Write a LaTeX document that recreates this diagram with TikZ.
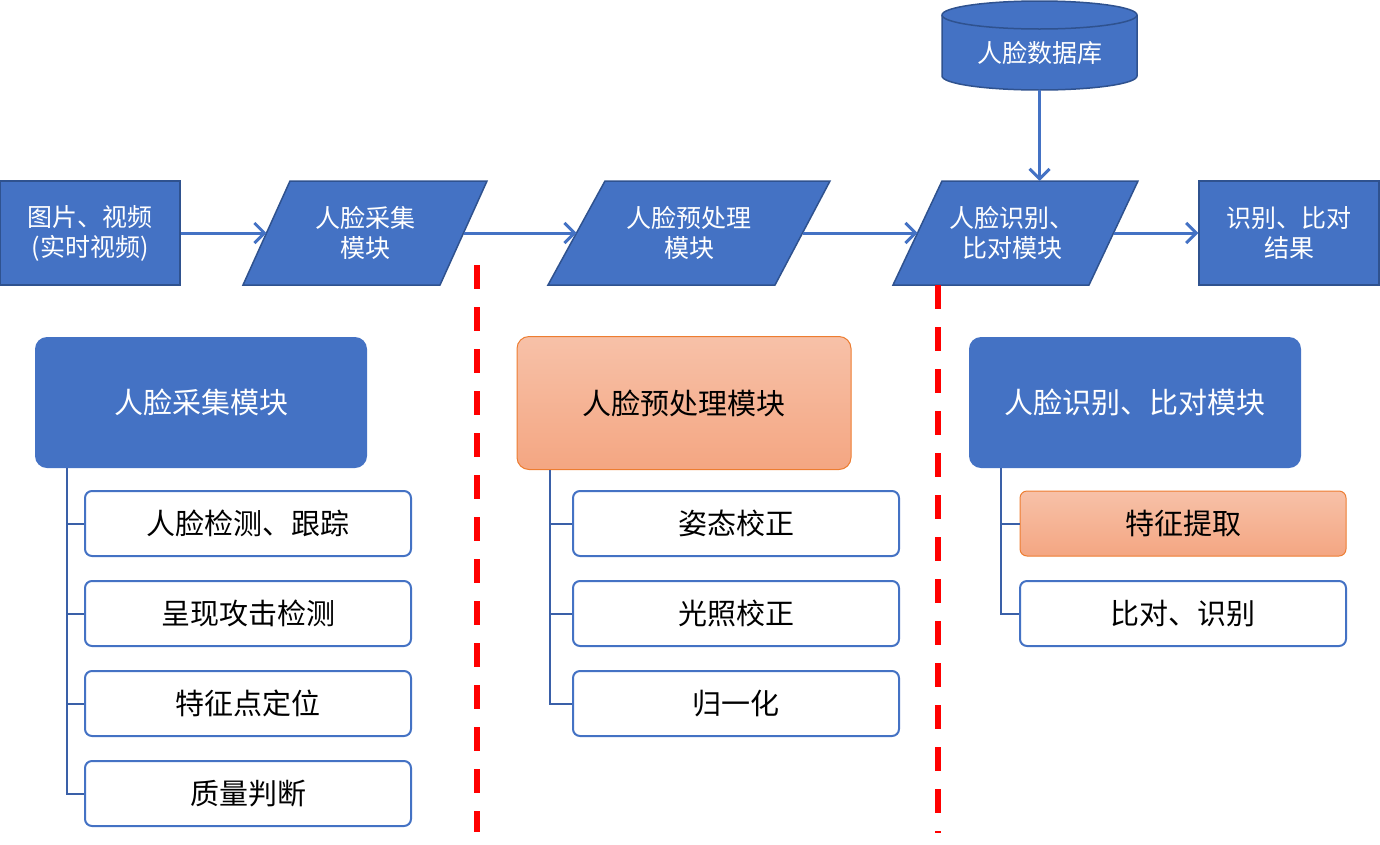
\documentclass[tikz,border=0pt]{standalone}
\usepackage{fontspec}
\setmainfont{Noto Sans CJK SC}
\usetikzlibrary{arrows.meta}
\definecolor{bfill}{HTML}{4472C4}
\definecolor{bdark}{HTML}{2F528F}
\definecolor{tline}{HTML}{3A60A8}
\definecolor{otop}{RGB}{247,193,168}
\definecolor{obot}{RGB}{244,166,130}
\definecolor{oedge}{HTML}{ED7D31}
\definecolor{sepred}{HTML}{FF0000}
\begin{document}
\begin{tikzpicture}[x=1pt,y=-1pt,
  topshape/.style={fill=bfill,draw=bdark,line width=1.5pt,line join=miter},
  toptext/.style={text=white,align=center,inner sep=0pt,font=\fontsize{25}{30}\selectfont},
  topbox/.style={fill=bfill,draw=bdark,line width=1.5pt,text=white,align=center,inner sep=0pt,
    font=\fontsize{25}{30}\selectfont,minimum width=180pt,minimum height=104pt},
  flow/.style={draw=bfill,line width=3pt,-{Straight Barb[length=10pt,width=20pt,line width=3pt]}},
  hdr/.style={fill=bfill,rounded corners=12pt,text=white,inner sep=0pt,
    font=\fontsize{29}{34}\selectfont,minimum width=332pt,minimum height=131pt},
  ohdr/.style={top color=otop,bottom color=obot,draw=oedge,line width=1pt,rounded corners=12pt,text=black,inner sep=0pt,
    font=\fontsize{29}{34}\selectfont,minimum width=334pt,minimum height=133pt},
  subbox/.style={fill=white,draw=bfill,line width=2pt,rounded corners=7pt,text=black,inner sep=0pt,
    font=\fontsize{29}{34}\selectfont,minimum width=326pt,minimum height=65pt},
  osub/.style={top color=otop,bottom color=obot,draw=oedge,line width=1pt,rounded corners=7pt,text=black,inner sep=0pt,
    font=\fontsize{29}{34}\selectfont,minimum width=326pt,minimum height=65pt},
  tree/.style={draw=tline,line width=2pt},
  sepline/.style={draw=sepred,line width=6pt,dash pattern=on 24pt off 18pt}
]
\useasboundingbox (0,0) rectangle (1380,844);

% --- top row ---
\node[topbox] (src) at (90,233) {图片、视频\\(实时视频)};

\draw[topshape] (243,285) -- (290,181) -- (487,181) -- (440,285) -- cycle;
\node[toptext] (p1) at (365,233) {人脸采集\\模块};
\coordinate (p1w) at (266.5,233);
\coordinate (p1e) at (463.5,233);

\draw[topshape] (548,285) -- (605,181) -- (830,181) -- (775,285) -- cycle;
\node[toptext] (p2) at (689,233) {人脸预处理\\模块};
\coordinate (p2w) at (576.5,233);
\coordinate (p2e) at (802.5,233);

\draw[topshape] (893,285) -- (942,181) -- (1138,181) -- (1089,285) -- cycle;
\node[toptext] (p3) at (1012,233) {人脸识别、\\比对模块};
\coordinate (p3w) at (917.5,233);
\coordinate (p3e) at (1113.5,233);
\coordinate (p3n) at (1039.5,181);

\node[topbox] (res) at (1289,233) {识别、比对\\结果};

% database cylinder
\draw[topshape] (942,15) -- (942,76)
  .. controls (942,83.73) and (985.65,90) .. (1039.5,90)
  .. controls (1093.35,90) and (1137,83.73) .. (1137,76)
  -- (1137,15)
  .. controls (1137,7.27) and (1093.35,1) .. (1039.5,1)
  .. controls (985.65,1) and (942,7.27) .. (942,15) -- cycle;
\draw[draw=bdark,line width=1.5pt] (942,15)
  .. controls (942,22.73) and (985.65,29) .. (1039.5,29)
  .. controls (1093.35,29) and (1137,22.73) .. (1137,15);
\node[toptext] (db) at (1039.5,53) {人脸数据库};
\coordinate (dbs) at (1039.5,90);

\draw[flow] (src.east) -- (p1w);
\draw[flow] (p1e) -- (p2w);
\draw[flow] (p2e) -- (p3w);
\draw[flow] (p3e) -- (res.west);
\draw[flow] (dbs) -- (p3n);

% --- separators ---
\draw[sepline] (477,265) -- (477,832);
\draw[sepline] (938,285) -- (938,833);

% --- module 1 ---
\node[hdr] (h1) at (201,402.5) {人脸采集模块};
\node[subbox] (s11) at (248,523.5) {人脸检测、跟踪};
\node[subbox] (s12) at (248,613.5) {呈现攻击检测};
\node[subbox] (s13) at (248,703.5) {特征点定位};
\node[subbox] (s14) at (248,793.5) {质量判断};
\draw[tree] (h1.south west) ++(32,0) |- (s14.west);
\draw[tree] (s11.west) -- ++(-18,0);
\draw[tree] (s12.west) -- ++(-18,0);
\draw[tree] (s13.west) -- ++(-18,0);

% --- module 2 ---
\node[ohdr] (h2) at (684,403) {人脸预处理模块};
\node[subbox] (s21) at (736,523.5) {姿态校正};
\node[subbox] (s22) at (736,613.5) {光照校正};
\node[subbox] (s23) at (736,703.5) {归一化};
\draw[tree] (h2.south west) ++(33,0) |- (s23.west);
\draw[tree] (s21.west) -- ++(-23,0);
\draw[tree] (s22.west) -- ++(-23,0);

% --- module 3 ---
\node[hdr] (h3) at (1135,402.5) {人脸识别、比对模块};
\node[osub] (s31) at (1183,523.5) {特征提取};
\node[subbox] (s32) at (1183,613.5) {比对、识别};
\draw[tree] (h3.south west) ++(32,0) |- (s32.west);
\draw[tree] (s31.west) -- ++(-19,0);
\end{tikzpicture}
\end{document}
